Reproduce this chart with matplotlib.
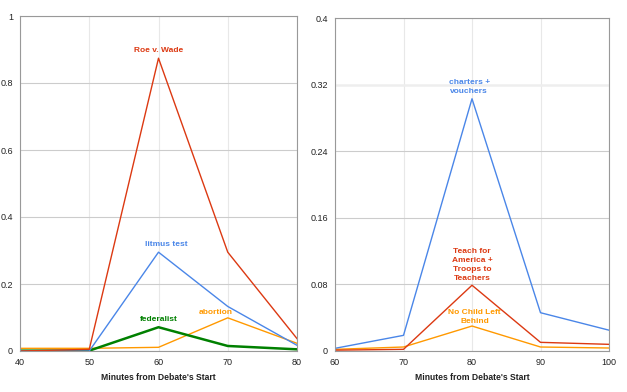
import matplotlib
matplotlib.use("Agg")
import matplotlib.pyplot as plt

plt.rcParams['font.family'] = ['Liberation Sans', 'DejaVu Sans']

# Left chart data
left_x = [40, 50, 60, 70, 80]
roe_v_wade = [0.0, 0.005, 0.874, 0.295, 0.037]
litmus_test = [0.0, 0.0, 0.295, 0.133, 0.017]
abortion = [0.008, 0.008, 0.011, 0.099, 0.023]
federalist = [0.001, 0.001, 0.071, 0.015, 0.005]
left_yticks = [0, 0.2, 0.4, 0.6, 0.8, 1]
left_yticklabels = ["0", "0.2", "0.4", "0.6", "0.8", "1"]

# Right chart data
right_x = [60, 70, 80, 90, 100]
charters_vouchers = [0.0032, 0.0188, 0.303, 0.046, 0.025]
teach_for_america = [0.001, 0.002, 0.079, 0.0104, 0.008]
no_child_left_behind = [0.002, 0.0048, 0.030, 0.0048, 0.0036]
right_yticks = [0, 0.08, 0.16, 0.24, 0.32, 0.4]
right_yticklabels = ["0", "0.08", "0.16", "0.24", "0.32", "0.4"]

RED = '#dc3912'
BLUE = '#4a86e8'
ORANGE = '#ff9900'
GREEN = '#008000'

fig = plt.figure(figsize=(6.27, 3.92), dpi=100)
W, H = 627, 392
axL = fig.add_axes([20 / W, 1 - 351 / H, (297 - 20) / W, (351 - 16) / H])
axR = fig.add_axes([335 / W, 1 - 351 / H, (609 - 335) / W, (351 - 18) / H])


def style(ax, xs, yticks, ylabels):
    ax.set_xlim(xs[0], xs[-1])
    ax.set_ylim(yticks[0], yticks[-1])
    ax.set_xticks(xs)
    ax.set_yticks(yticks)
    ax.set_yticklabels(ylabels)
    ax.tick_params(axis='both', length=0, labelsize=6.5, colors='#222222', pad=5)
    ax.tick_params(axis='y', pad=5)
    ax.yaxis.grid(True, color='#cccccc', linewidth=0.8)
    ax.xaxis.grid(True, color='#e8e8e8', linewidth=0.8)
    ax.set_axisbelow(True)
    for s in ax.spines.values():
        s.set_color('#999999')
        s.set_linewidth(0.8)
    ax.set_xlabel("Minutes from Debate's Start", fontsize=6.2, fontweight='bold', color='#222222', labelpad=4)


style(axL, left_x, left_yticks, left_yticklabels)
style(axR, right_x, right_yticks, right_yticklabels)
# the 0.32 gridline in the reference is a lighter, wider band
axR.get_ygridlines()[4].set_color('#eeeeee')
axR.get_ygridlines()[4].set_linewidth(1.8)

axL.plot(left_x, abortion, color=ORANGE, lw=1.0)
axL.plot(left_x, federalist, color=GREEN, lw=1.8)
axL.plot(left_x, litmus_test, color=BLUE, lw=1.0)
axL.plot(left_x, roe_v_wade, color=RED, lw=1.0)

kw = dict(fontsize=6.0, fontweight='bold', ha='center', va='bottom', linespacing=1.4)
axL.annotate("Roe v. Wade", (60, roe_v_wade[2]), xytext=(0, 3), textcoords='offset points', color=RED, **kw)
axL.annotate("litmus test", (61.2, litmus_test[2]), xytext=(0, 3), textcoords='offset points', color=BLUE, **kw)
axL.annotate("federalist", (60, federalist[2]), xytext=(0, 3), textcoords='offset points', color=GREEN, **kw)
axL.annotate("abortion", (68.3, abortion[3]), xytext=(0, 1), textcoords='offset points', color=ORANGE, **kw)

axR.plot(right_x, no_child_left_behind, color=ORANGE, lw=1.0)
axR.plot(right_x, teach_for_america, color=RED, lw=1.0)
axR.plot(right_x, charters_vouchers, color=BLUE, lw=1.0)

axR.annotate("charters +\nvouchers", (79.6, charters_vouchers[2]), xytext=(0, 3), textcoords='offset points',
             color=BLUE, **kw)
axR.annotate("Teach for\nAmerica +\nTroops to\nTeachers", (80, teach_for_america[2]), xytext=(0, 2.5),
             textcoords='offset points', color=RED, **kw)
axR.annotate("No Child Left\nBehind", (80.4, no_child_left_behind[2]), xytext=(0, 0.5), textcoords='offset points',
             color=ORANGE, **kw)

fig.savefig("out.png", dpi=100)
